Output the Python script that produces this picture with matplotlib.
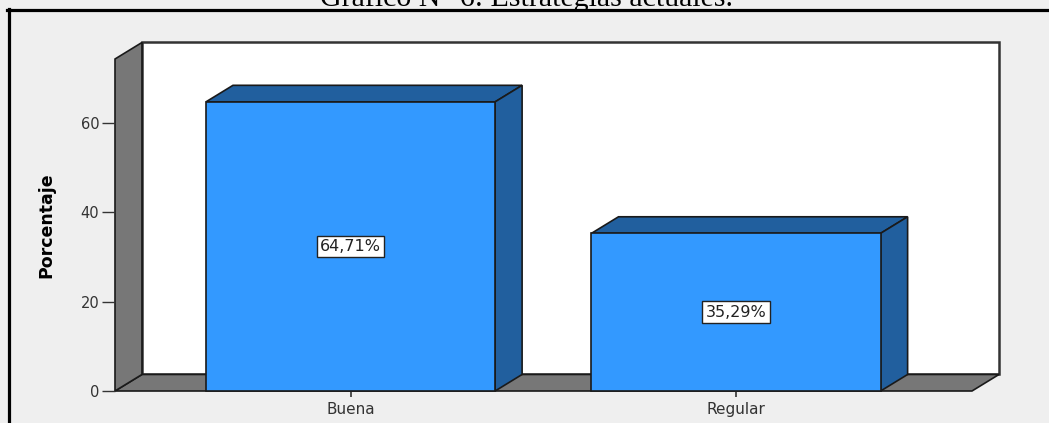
import matplotlib
matplotlib.use("Agg")
import matplotlib.pyplot as plt
from matplotlib.patches import Polygon, Rectangle
from matplotlib.lines import Line2D

categorias = ["Buena", "Regular"]
porcentajes = [64.71, 35.29]
yticks = [0, 20, 40, 60]
titulo = "Gráfico N° 6: Estrategias actuales."

# colores estilo SPSS
fondo = "#efefef"
azul = "#3399ff"
azul_osc = "#215f9e"
gris = "#777777"

fig = plt.figure(figsize=(10.49, 4.23), dpi=100, facecolor=fondo)

W, H = 1049, 423
# plano frontal del grafico en pixeles
x0_px, x1_px = 115, 972
y0_px, y1_px = 391, 59
ax = fig.add_axes([x0_px / W, (H - y0_px) / H, (x1_px - x0_px) / W, (y0_px - y1_px) / H])
ax.patch.set_visible(False)

xmin, xmax = -0.611, 1.612
ymax = 74.3
ax.set_xlim(xmin, xmax)
ax.set_ylim(0, ymax)
dx, dy = 0.070, 3.7   # profundidad 3D
ancho = 0.75

for s in ax.spines.values():
    s.set_visible(False)

def poly(pts, fc, ec="#1a1a1a", lw=1.2, z=1):
    ax.add_patch(Polygon(pts, closed=True, facecolor=fc, edgecolor=ec,
                         linewidth=lw, clip_on=False, zorder=z, joinstyle="miter"))

# pared del fondo
poly([(xmin + dx, dy), (xmax + dx, dy), (xmax + dx, ymax + dy), (xmin + dx, ymax + dy)],
     "white", ec="#333333", lw=1.8)
# piso
poly([(xmin, 0), (xmax, 0), (xmax + dx, dy), (xmin + dx, dy)], gris)
# pared lateral
poly([(xmin, 0), (xmin + dx, dy), (xmin + dx, ymax + dy), (xmin, ymax)], gris)

# barras 3D
for i, v in enumerate(porcentajes):
    l, r = i - ancho / 2, i + ancho / 2
    poly([(l, v), (r, v), (r + dx, v + dy), (l + dx, v + dy)], azul_osc, z=3)
    poly([(r, 0), (r + dx, dy), (r + dx, v + dy), (r, v)], azul_osc, z=3)
    ax.add_patch(Rectangle((l, 0), ancho, v, facecolor=azul, edgecolor="#1a1a1a",
                           linewidth=1.2, clip_on=False, zorder=4))
    ax.text(i, v / 2, f"{v:.2f}%".replace(".", ","), ha="center", va="center",
            fontsize=11.5, color="#222222", zorder=5,
            bbox=dict(boxstyle="square,pad=0.2", facecolor="white",
                      edgecolor="#222222", linewidth=1.0))

ax.set_yticks(yticks)
ax.set_xticks(range(len(categorias)))
ax.set_xticklabels(categorias)
ax.tick_params(axis="y", length=9.4, width=1, color="#333333", pad=2,
               labelsize=10.5, labelcolor="#333333")
ax.tick_params(axis="x", length=4.3, width=1.2, color="#333333", pad=3.5,
               labelsize=11, labelcolor="#333333")
ax.set_ylabel("Porcentaje", fontsize=12.5, fontweight="bold", va="center")
ax.yaxis.set_label_coords((46 - x0_px) / (x1_px - x0_px), 0.5)

# marco negro y titulo
fig.add_artist(Line2D([7 / W, 1], [1 - 10.5 / H, 1 - 10.5 / H], color="black",
                      lw=2.3, transform=fig.transFigure))
fig.add_artist(Line2D([8.5 / W, 8.5 / W], [0, 1 - 9.5 / H], color="black",
                      lw=2.3, transform=fig.transFigure))
fig.text(526 / W, 1 - 6 / H, titulo, ha="center", va="baseline",
         fontsize=21.5, family="Liberation Serif", color="black")

fig.savefig("out.png", dpi=100, facecolor=fondo)
